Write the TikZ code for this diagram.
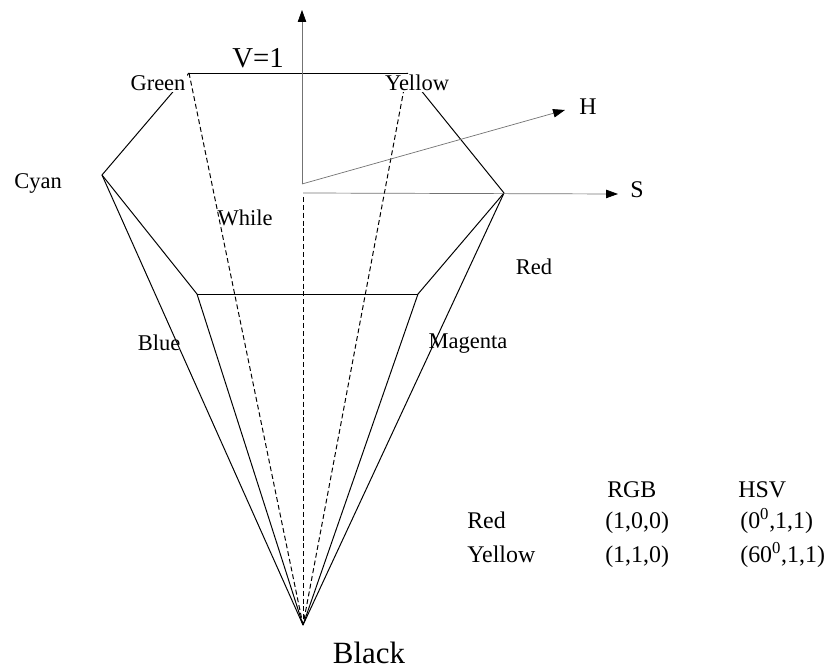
\documentclass[tikz,border=0pt]{standalone}
\usepackage{fontspec}
\setmainfont{Liberation Serif}
\usetikzlibrary{arrows.meta}

\begin{document}
\begin{tikzpicture}[x=0.025cm, y=-0.025cm,
  edge/.style={line width=0.7pt},
  hidden/.style={line width=0.7pt, dash pattern=on 3.5pt off 2.1pt},
  axis/.style={line width=0.5pt, black!55, -{Triangle[length=8.5pt, width=6pt, black]}},
  lbl/.style={fill=white, inner sep=1pt, font=\fontsize{16}{19}\selectfont},
  tbl/.style={anchor=base west, inner sep=0pt, font=\fontsize{17}{20}\selectfont},
]
  \useasboundingbox (0,0) rectangle (829,668);

  % Vertices of the cone
  \coordinate (green) at (189,73);
  \coordinate (yellow) at (407,73);
  \coordinate (cyan) at (102,175);
  \coordinate (red) at (504,193);
  \coordinate (blue) at (197,294);
  \coordinate (magenta) at (418,294);
  \coordinate (black) at (303,625);

  % Axis points
  \coordinate (orig) at (302,184);
  \coordinate (vtop) at (302,10);
  \coordinate (htip) at (565,110);
  \coordinate (sorig) at (303,193);
  \coordinate (stip) at (618,194);
  \coordinate (dorig) at (303,197);

  % Hexagon and cone
  \draw[edge] (green) -- (yellow);
  \draw[edge] (green) -- (cyan);
  \draw[edge] (yellow) -- (red);
  \draw[edge] (cyan) -- (blue);
  \draw[edge] (red) -- (magenta);
  \draw[edge] (blue) -- (magenta);
  \draw[edge] (cyan) -- (black);
  \draw[edge] (red) -- (black);
  \draw[edge] (blue) -- (black);
  \draw[edge] (magenta) -- (black);

  % Hidden edges
  \draw[hidden] (green) -- (black);
  \draw[hidden] (yellow) -- (black);
  \draw[hidden] (dorig) -- (black);

  % Axes
  \draw[axis] (orig) -- (vtop);
  \draw[axis] (orig) -- (htip);
  \draw[axis] (sorig) -- (stip);

  % Labels
  \node[font=\fontsize{20.5}{24}\selectfont] (vlbl) at (258,58) {V=1};
  \node[lbl] (glbl) at (158,83) {Green};
  \node[lbl] (ylbl) at (417,83) {Yellow};
  \node[lbl] (clbl) at (38,183) {Cyan};
  \node[lbl, fill=none] (wlbl) at (245,218) {While};
  \node[lbl] (rlbl) at (534,267) {Red};
  \node[lbl, fill=none] (blbl) at (159,343) {Blue};
  \node[lbl, fill=none] (mlbl) at (468,344) {Magenta};
  \node[lbl, font=\fontsize{17}{20}\selectfont] (hlbl) at (588,107) {H};
  \node[lbl, font=\fontsize{17}{20}\selectfont] (slbl) at (637,190) {S};
  \node[anchor=base, inner sep=0pt, font=\fontsize{22}{26}\selectfont] (klbl) at (369,663) {Black};

  % Table
  \node[tbl] (rgbhead) at (607,497) {RGB};
  \node[tbl] (hsvhead) at (738,497) {HSV};
  \node[tbl] (rrow) at (467,528) {Red};
  \node[tbl] (rrgb) at (605,528) {(1,0,0)};
  \node[tbl] (rhsv) at (740,528) {(0\textsuperscript{0},1,1)};
  \node[tbl] (yrow) at (467,562) {Yellow};
  \node[tbl] (yrgb) at (605,562) {(1,1,0)};
  \node[tbl] (yhsv) at (740,562) {(60\textsuperscript{0},1,1)};
\end{tikzpicture}
\end{document}
